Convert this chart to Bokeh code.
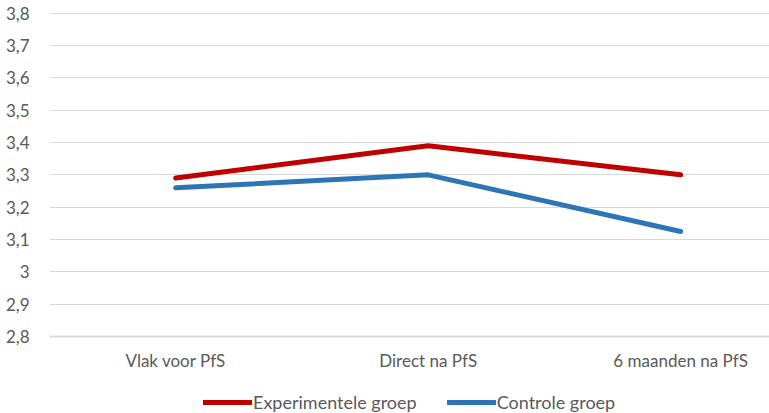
from bokeh.plotting import figure
from bokeh.models import FixedTicker, Legend, LegendItem, ColumnDataSource, Span
from bokeh.core.properties import value
from bokeh.embed import file_html
from bokeh.resources import INLINE

categories = ["Vlak voor PfS", "Direct na PfS", "6 maanden na PfS"]
experimentele = [3.29, 3.39, 3.30]
controle = [3.26, 3.30, 3.125]
y_ticks = [2.8, 2.9, 3.0, 3.1, 3.2, 3.3, 3.4, 3.5, 3.6, 3.7, 3.8]
y_tick_labels = ["2,8", "2,9", "3", "3,1", "3,2", "3,3", "3,4", "3,5", "3,6", "3,7", "3,8"]

xs = list(range(len(categories)))
src = ColumnDataSource(dict(x=xs, exp=experimentele, ctl=controle,
                            cat=categories, base=[min(y_ticks)] * len(xs)))

FONT = "Lato"
TXT = "#595959"

p = figure(width=769, height=413, output_backend="svg", toolbar_location=None,
           x_range=(-0.5, 2.352), y_range=(2.5623, 3.8389),
           min_border_left=49, min_border_right=0, min_border_top=0, min_border_bottom=0)
p.outline_line_color = None
p.background_fill_color = "white"
p.xaxis.visible = False

p.xgrid.visible = False
p.ygrid.grid_line_color = "#D9D9D9"
p.ygrid.grid_line_width = 1
p.ygrid.ticker = FixedTicker(ticks=y_ticks)

p.yaxis.ticker = FixedTicker(ticks=y_ticks)
p.yaxis.major_label_overrides = {t: l for t, l in zip(y_ticks, y_tick_labels)}
p.yaxis.axis_line_color = None
p.yaxis.major_tick_line_color = None
p.yaxis.minor_tick_line_color = None
p.yaxis.major_label_standoff = 14
p.yaxis.major_label_text_font = FONT
p.yaxis.major_label_text_font_size = "17px"
p.yaxis.major_label_text_color = TXT

# category axis baseline and labels
p.add_layout(Span(location=min(y_ticks), dimension="width", line_color="#D9D9D9", line_width=2))
p.text(x="x", y="base", text="cat", source=src, text_font=value(FONT),
       text_font_size="17px", text_color=TXT, text_align="center",
       text_baseline="top", y_offset=13)

r1 = p.line("x", "exp", source=src, line_color="#C00000", line_width=5, line_cap="round", line_join="round")
r2 = p.line("x", "ctl", source=src, line_color="#2E75B6", line_width=5, line_cap="round", line_join="round")

legend = Legend(items=[LegendItem(label="Experimentele groep", renderers=[r1]),
                       LegendItem(label="Controle groep", renderers=[r2])],
                orientation="horizontal", location=(154, 0),
                border_line_color=None, background_fill_alpha=0,
                padding=0, margin=0, spacing=30, glyph_width=49, glyph_height=16,
                label_height=16, label_standoff=1, label_text_font=FONT,
                label_text_font_size="18px", label_text_color=TXT,
                label_text_baseline="middle")
p.add_layout(legend, "center")

open("out.html", "w").write(file_html(p, INLINE))
